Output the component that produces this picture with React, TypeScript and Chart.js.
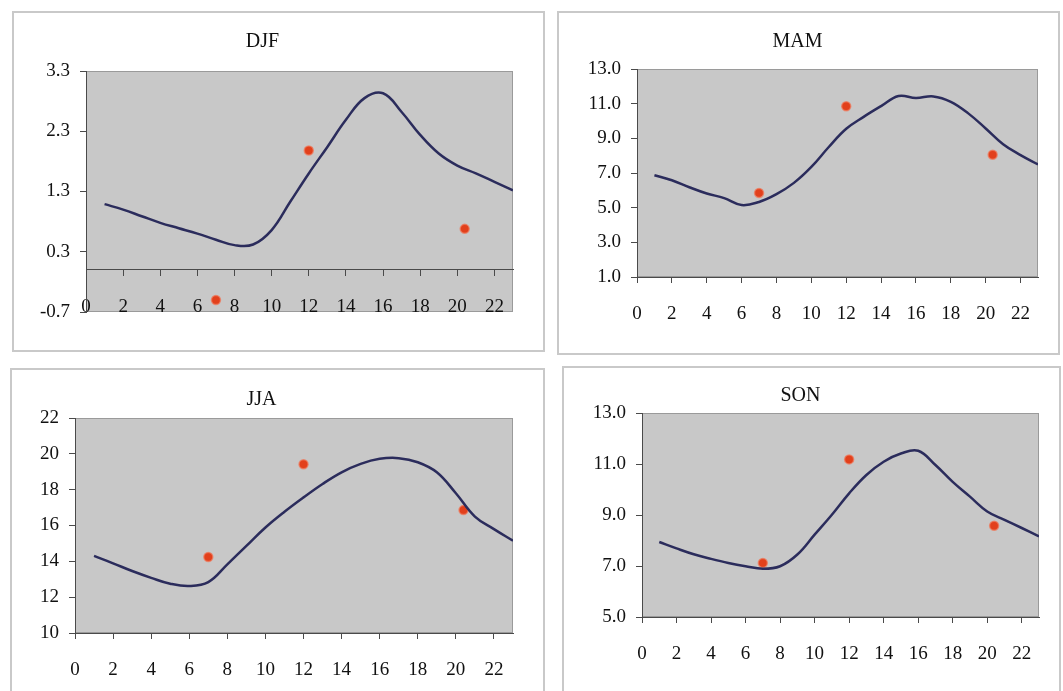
import { useEffect, useRef } from "react";
import { Chart, registerables } from "chart.js";

Chart.register(...registerables);

// Hours of the modelled diurnal cycle
const hours = [1, 2, 3, 4, 5, 6, 7, 8, 9, 10, 11, 12, 13, 14, 15, 16, 17, 18, 19, 20, 21, 22, 23];
// Hours of the three observations
const obsHours = [7, 12, 20.4];
const xTicks = [0, 2, 4, 6, 8, 10, 12, 14, 16, 18, 20, 22];

const djfModel = [1.09, 1.0, 0.89, 0.78, 0.69, 0.6, 0.5, 0.41, 0.42, 0.66, 1.13, 1.6, 2.04, 2.49, 2.85, 2.93, 2.62, 2.24, 1.93, 1.73, 1.6, 1.46, 1.32];
const djfObs = [-0.5, 1.98, 0.68];
const djfTicks = [-0.7, 0.3, 1.3, 2.3, 3.3];

const mamModel = [6.87, 6.58, 6.18, 5.82, 5.55, 5.15, 5.33, 5.78, 6.43, 7.35, 8.5, 9.55, 10.24, 10.86, 11.44, 11.33, 11.42, 11.11, 10.44, 9.57, 8.66, 8.03, 7.49];
const mamObs = [5.85, 10.85, 8.05];
const mamTicks = [1, 3, 5, 7, 9, 11, 13];

const jjaModel = [14.3, 13.89, 13.46, 13.08, 12.75, 12.62, 12.84, 13.83, 14.86, 15.89, 16.77, 17.57, 18.32, 18.97, 19.44, 19.72, 19.76, 19.53, 18.97, 17.8, 16.5, 15.8, 15.15];
const jjaObs = [14.24, 19.42, 16.86];
const jjaTicks = [10, 12, 14, 16, 18, 20, 22];

const sonModel = [7.94, 7.69, 7.46, 7.28, 7.12, 6.99, 6.89, 6.99, 7.45, 8.23, 9.01, 9.85, 10.57, 11.09, 11.41, 11.52, 10.96, 10.3, 9.72, 9.14, 8.81, 8.49, 8.16];
const sonObs = [7.12, 11.18, 8.58];
const sonTicks = [5, 7, 9, 11, 13];

const FONT = "'Liberation Serif', 'DejaVu Serif', serif";
const TEXT = "#111111";
const AXIS = "#4a4a4a";
const PLOT_BG = "#c8c8c8";
const PLOT_EDGE = "#9a9a9a";
const LINE = "#2b2c5c";
const DOT = "#e2401c";

type Panel = {
  title: string;
  model: number[];
  obs: number[];
  yTicks: number[];
  decimals: number;
  left: number;
  top: number;
  width: number;
  height: number;
  yWidth: number;
  padRight: number;
  padBottom: number;
  xHeight: number;
  titlePad: { top: number; bottom: number };
  axisAtZero: boolean;
};

const panels: Panel[] = [
  {
    title: "DJF", model: djfModel, obs: djfObs, yTicks: djfTicks, decimals: 1,
    left: 12, top: 11, width: 533, height: 341,
    yWidth: 74, padRight: 32, padBottom: 40, xHeight: 40,
    titlePad: { top: 19, bottom: 17 }, axisAtZero: true,
  },
  {
    title: "MAM", model: mamModel, obs: mamObs, yTicks: mamTicks, decimals: 1,
    left: 557, top: 11, width: 503, height: 344,
    yWidth: 80, padRight: 22, padBottom: 0, xHeight: 78,
    titlePad: { top: 19, bottom: 15 }, axisAtZero: false,
  },
  {
    title: "JJA", model: jjaModel, obs: jjaObs, yTicks: jjaTicks, decimals: 0,
    left: 10, top: 368, width: 535, height: 400,
    yWidth: 65, padRight: 32, padBottom: 0, xHeight: 58,
    titlePad: { top: 20, bottom: 6 }, axisAtZero: false,
  },
  {
    title: "SON", model: sonModel, obs: sonObs, yTicks: sonTicks, decimals: 1,
    left: 562, top: 366, width: 499, height: 400,
    yWidth: 80, padRight: 22, padBottom: 0, xHeight: 74,
    titlePad: { top: 17.5, bottom: 5.5 }, axisAtZero: false,
  },
];

// Grey plot area with a thin frame, painted beneath axes and data
const plotBackground = {
  id: "plotBackground",
  beforeDraw(chart: any) {
    const { ctx, chartArea } = chart;
    if (!chartArea) return;
    ctx.save();
    ctx.fillStyle = PLOT_BG;
    ctx.fillRect(chartArea.left, chartArea.top, chartArea.right - chartArea.left, chartArea.bottom - chartArea.top);
    ctx.strokeStyle = PLOT_EDGE;
    ctx.lineWidth = 1;
    ctx.strokeRect(chartArea.left + 0.5, chartArea.top + 0.5, chartArea.right - chartArea.left - 1, chartArea.bottom - chartArea.top - 1);
    ctx.restore();
  },
};

function SeasonChart({ p }: { p: Panel }) {
  const ref = useRef<HTMLCanvasElement | null>(null);
  const canvasHeight = Math.min(p.height, 691 - p.top);

  useEffect(() => {
    if (!ref.current) return;
    const tickFont = { family: FONT, size: 19, lineHeight: 1.2 };
    const chart = new Chart(ref.current, {
      type: "line",
      data: {
        datasets: [
          {
            type: "line",
            data: hours.map((h, i) => ({ x: h, y: p.model[i] })),
            borderColor: LINE,
            borderWidth: 2.5,
            pointRadius: 0,
            tension: 0.4,
            fill: false,
          },
          {
            type: "scatter",
            data: obsHours.map((h, i) => ({ x: h, y: p.obs[i] })),
            pointRadius: 4.5,
            pointBackgroundColor: DOT,
            pointBorderColor: "rgba(240,120,90,0.7)",
            pointBorderWidth: 1.5,
            showLine: false,
          },
        ],
      } as any,
      options: {
        responsive: false,
        animation: false,
        events: [],
        layout: { padding: { left: 0, top: 0, right: p.padRight, bottom: p.padBottom } },
        plugins: {
          legend: { display: false },
          tooltip: { enabled: false },
          title: {
            display: true,
            text: p.title,
            color: TEXT,
            font: { family: FONT, size: 20, weight: "normal", lineHeight: 1.2 },
            padding: p.titlePad,
          },
        },
        scales: {
          x: {
            type: "linear",
            min: 0,
            max: 23,
            position: (p.axisAtZero ? { y: 0 } : "bottom") as any,
            afterBuildTicks: (s: any) => {
              s.ticks = xTicks.map((v) => ({ value: v }));
            },
            afterFit: (s: any) => {
              s.height = p.xHeight;
            },
            grid: { drawOnChartArea: false, drawTicks: true, tickLength: 6, color: AXIS },
            border: { display: true, color: AXIS, width: 1 },
            ticks: {
              padding: 19.6,
              color: TEXT,
              font: tickFont,
              maxRotation: 0,
              autoSkip: false,
              callback: (v: any) => String(v),
            },
          },
          y: {
            type: "linear",
            position: "left",
            min: p.yTicks[0],
            max: p.yTicks[p.yTicks.length - 1],
            afterBuildTicks: (s: any) => {
              s.ticks = p.yTicks.map((v) => ({ value: v }));
            },
            afterFit: (s: any) => {
              s.width = p.yWidth;
            },
            grid: { drawOnChartArea: false, drawTicks: true, tickLength: 6, color: AXIS },
            border: { display: true, color: AXIS, width: 1 },
            ticks: {
              padding: 10,
              color: TEXT,
              font: tickFont,
              callback: (v: any) => Number(v).toFixed(p.decimals),
            },
          },
        },
      } as any,
      plugins: [plotBackground],
    });
    return () => chart.destroy();
  }, [p]);

  return (
    <>
      <canvas
        ref={ref}
        width={p.width}
        height={canvasHeight}
        style={{ position: "absolute", left: p.left, top: p.top, width: p.width, height: canvasHeight }}
      />
      <div
        style={{
          position: "absolute",
          left: p.left,
          top: p.top,
          width: p.width,
          height: p.height,
          border: "2px solid #c9c9c9",
          boxSizing: "border-box",
          pointerEvents: "none",
        }}
      />
    </>
  );
}

export default function App() {
  return (
    <div
      style={{
        position: "absolute",
        left: 0,
        top: 0,
        width: 1063,
        height: 691,
        overflow: "hidden",
        background: "#ffffff",
      }}
    >
      {panels.map((p) => (
        <SeasonChart key={p.title} p={p} />
      ))}
    </div>
  );
}
